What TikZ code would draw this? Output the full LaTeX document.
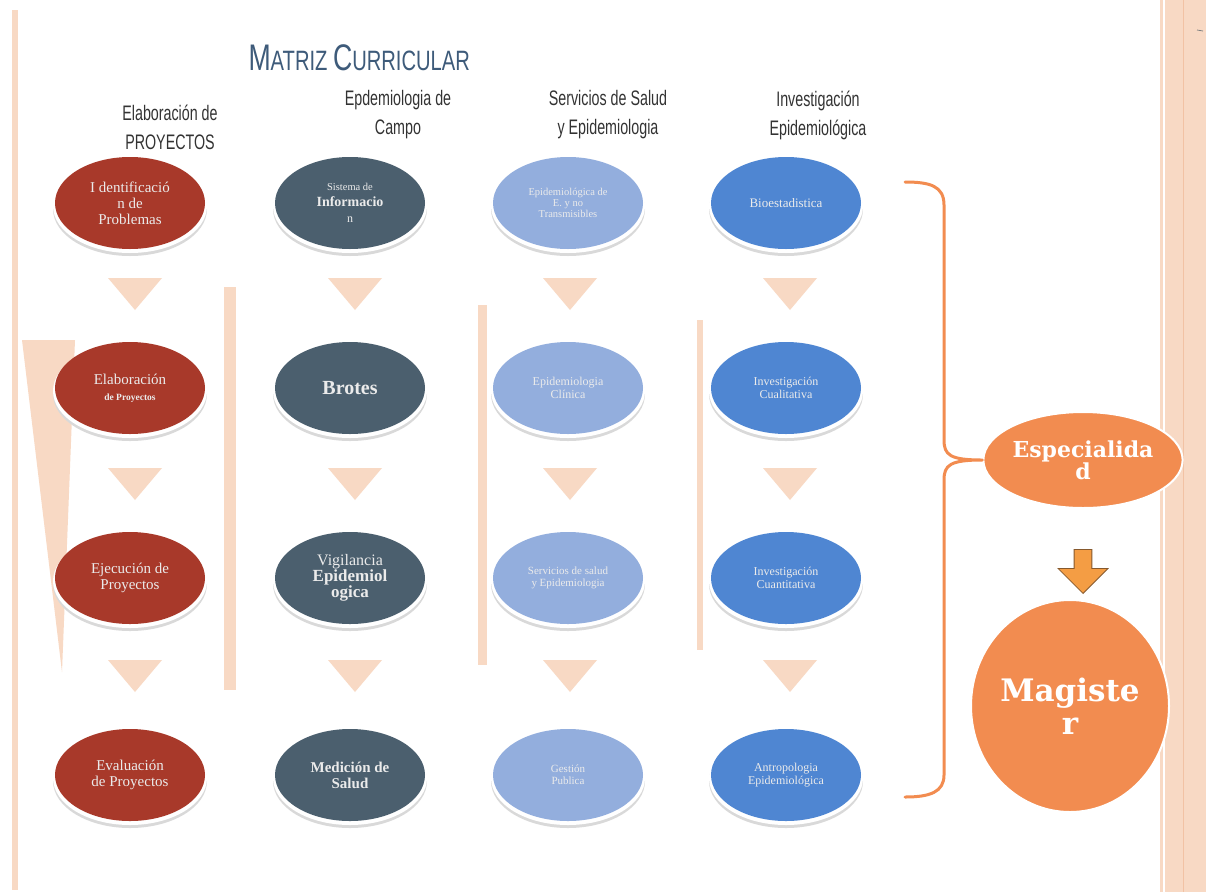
\documentclass[tikz,border=0pt]{standalone}
\usepackage{fontspec}
\setmainfont{Liberation Serif}
\newfontfamily\hdrfont{Liberation Sans}
\newfontfamily\bigserif{DejaVu Serif}
\usetikzlibrary{shapes.geometric,shapes.arrows}
\definecolor{peach}{HTML}{F8D9C4}
\definecolor{peachd}{HTML}{F2C2A4}
\definecolor{redc}{HTML}{A8392A}
\definecolor{grayc}{HTML}{4B5F6E}
\definecolor{lbluec}{HTML}{93AEDD}
\definecolor{bluec}{HTML}{4F86D2}
\definecolor{orangec}{HTML}{F28C50}
\definecolor{titlec}{HTML}{3E5B7A}
\definecolor{hdrc}{HTML}{333333}
\begin{document}
\begin{tikzpicture}[x=1pt,y=-1pt,
  oval/.style={ellipse, minimum width=150pt, minimum height=92pt, inner sep=1pt, align=center, text=white!92!black, font=\fontsize{15}{16}\selectfont},
  hdr/.style={align=center, text=hdrc, font=\hdrfont\fontsize{21}{29}\selectfont, xscale=0.68},
  bigoval/.style={ellipse, fill=orangec, draw=white, line width=2pt, text=white, align=center, inner sep=0pt}
]
\useasboundingbox (0,0) rectangle (1206,892);
\fill[white] (0,0) rectangle (1206,892);
% side decorations
\fill[peach] (12,10) rectangle (18,890);
\fill[peach] (1160,0) rectangle (1206,892);
\draw[peachd, line width=1pt] (1183,0) -- (1183,892);
\draw[white, line width=2pt] (1164,0) -- (1164,892);
\draw[gray, line width=0.8pt] (1197,30) -- (1203,31);
% wedge and bars
\fill[peach] (22,340) -- (75,340) -- (62,672) -- cycle;
\fill[peach] (224,287) rectangle (236,690);
\fill[peach] (478,305) rectangle (487,665);
\fill[peach] (697,320) rectangle (703,650);

% title
\node[text=titlec, xscale=0.72, anchor=west] (title) at (246,58)
  {\hdrfont\fontsize{37}{38}\selectfont M\fontsize{28}{30}\selectfont ATRIZ \fontsize{37}{38}\selectfont C\fontsize{28}{30}\selectfont URRICULAR};

% headers
\node[hdr] (h1) at (170,127) {Elaboración de\\PROYECTOS};
\node[hdr] (h2) at (398,115) {Epdemiologia de\\Campo};
\node[hdr] (h3) at (608,115) {Servicios de Salud\\y Epidemiologia};
\node[hdr] (h4) at (818,115) {Investigación\\Epidemiológica};

% shadows under ellipses
\foreach \x in {130,350,568,786}{
  \foreach \y in {203,388,578,775}{
    \fill[gray!30] (\x,\y+6) ellipse (77pt and 47pt);
    \fill[white] (\x,\y+3) ellipse (77pt and 47pt);
  }
}

% column 1
\node[oval, fill=redc] (a1) at (130,203) {I dentificació\\n de\\Problemas};
\node[oval, fill=redc] (a2) at (130,388) {Elaboración\\{\fontsize{9.5}{11}\selectfont\bfseries de Proyectos}};
\node[oval, fill=redc] (a3) at (130,578) {Ejecución de\\Proyectos};
\node[oval, fill=redc] (a4) at (130,775) {Evaluación\\de Proyectos};
% column 2
\node[oval, fill=grayc] (b1) at (350,203) {{\fontsize{10.5}{12}\selectfont Sistema de}\\{\fontsize{14}{15}\selectfont\bfseries Informacio}\\{\fontsize{12}{13}\selectfont n}};
\node[oval, fill=grayc, font=\fontsize{20}{22}\selectfont\bfseries] (b2) at (350,388) {Brotes};
\node[oval, fill=grayc] (b3) at (350,578) {{\fontsize{16}{16}\selectfont Vigilancia}\\{\fontsize{17}{17}\selectfont\bfseries Epidemiol}\\{\fontsize{17}{17}\selectfont\bfseries ogica}};
\node[oval, fill=grayc, font=\fontsize{15}{16}\selectfont\bfseries] (b4) at (350,775) {Medición de\\Salud};
% column 3
\node[oval, fill=lbluec, font=\fontsize{10.5}{11}\selectfont] (c1) at (568,203) {Epidemiológica de\\E. y no\\Transmisibles};
\node[oval, fill=lbluec, font=\fontsize{12}{13}\selectfont] (c2) at (568,388) {Epidemiologia\\Clínica};
\node[oval, fill=lbluec, font=\fontsize{11}{12}\selectfont] (c3) at (568,578) {Servicios de salud\\y Epidemiologia};
\node[oval, fill=lbluec, font=\fontsize{11}{12}\selectfont] (c4) at (568,775) {Gestión\\Publica};
% column 4
\node[oval, fill=bluec, font=\fontsize{13}{14}\selectfont] (d1) at (786,203) {Bioestadistica};
\node[oval, fill=bluec, font=\fontsize{12}{13}\selectfont] (d2) at (786,388) {Investigación\\Cualitativa};
\node[oval, fill=bluec, font=\fontsize{12}{13}\selectfont] (d3) at (786,578) {Investigación\\Cuantitativa};
\node[oval, fill=bluec, font=\fontsize{12}{13}\selectfont] (d4) at (786,775) {Antropologia\\Epidemiológica};

% triangles
\foreach \x in {135,355,570,790}{
  \foreach \y in {278,468,660}{
    \fill[peach] (\x-27,\y) -- (\x+27,\y) -- (\x,\y+32) -- cycle;
  }
}

% right part
\node[bigoval, minimum width=182pt, minimum height=96pt, font=\bigserif\bfseries\fontsize{22}{22}\selectfont] (esp) at (1083,460) {Especialida\\d};
\node[bigoval, minimum width=198pt, minimum height=212pt, font=\bigserif\bfseries\fontsize{31}{33}\selectfont] (mag) at (1070,706) {Magiste\\r};
\node[single arrow, shape border rotate=270, fill=orangec!85!yellow, draw=brown!70!black, line width=0.8pt,
  minimum width=50pt, single arrow head extend=8pt, minimum height=44pt, inner sep=4pt] (arr) at (1083,567) {};

% brace
\coordinate (bt) at (905,182);
\coordinate (bb) at (905,797);
\draw[orangec, line width=3pt, line cap=round, line join=round]
  (bt) .. controls (930,182) and (944,186) .. (944,205)
  -- (944,440) .. controls (944,455) and (950,460) .. (esp.west)
  (944,480) .. controls (944,465) and (950,460) .. (esp.west)
  (944,480) -- (944,775) .. controls (944,792) and (930,797) .. (bb);
\end{tikzpicture}
\end{document}
